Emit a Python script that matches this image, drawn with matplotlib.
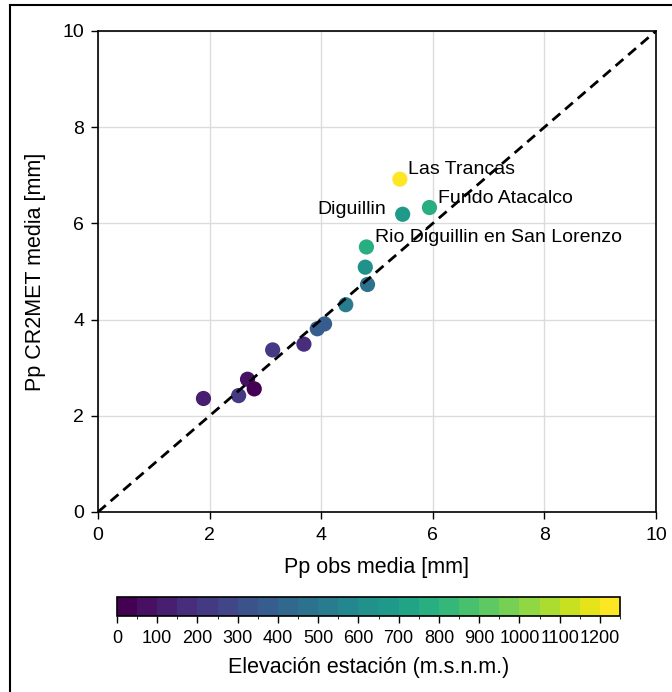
import numpy as np
import matplotlib
matplotlib.use("Agg")
import matplotlib.pyplot as plt
from matplotlib.colors import BoundaryNorm
from matplotlib.lines import Line2D

plt.rcParams['font.family'] = ['Liberation Sans', 'DejaVu Sans']

# Station means: observed vs CR2MET precipitation [mm] and station elevation [m]
pp_obs = [5.41, 5.94, 5.46, 4.81, 4.79, 4.83, 4.44, 4.06, 3.93, 3.69, 3.13, 2.68, 2.80, 2.52, 1.89]
pp_cr2met = [6.92, 6.33, 6.19, 5.51, 5.09, 4.73, 4.31, 3.91, 3.81, 3.49, 3.37, 2.76, 2.56, 2.42, 2.36]
elevacion = [1230, 760, 690, 750, 610, 470, 500, 380, 360, 180, 200, 70, 20, 230, 110]
nombres = ["Las Trancas", "Fundo Atacalco", "Diguillin", "Rio Diguillin en San Lorenzo",
           "", "", "", "", "", "", "", "", "", "", ""]
etiqueta_lado = ["right", "right", "left", "right"]

cb_ticks = list(range(0, 1300, 100))
niveles = list(range(0, 1300, 50))
ejes_ticks = [0, 2, 4, 6, 8, 10]

fig = plt.figure(figsize=(6.72, 6.92), dpi=100)
ax = fig.add_axes([98 / 672, 1 - 512 / 692, 558 / 672, 481 / 692])

cmap = plt.get_cmap('viridis', len(niveles) - 1)
norm = BoundaryNorm(niveles, cmap.N)

ax.grid(True, color='#dcdcdc', lw=1.0, zorder=0)
sc = ax.scatter(pp_obs, pp_cr2met, c=elevacion, cmap=cmap, norm=norm, s=120,
                edgecolors='none', zorder=3)
ax.plot([0, 10], [0, 10], color='black', ls=(0, (3.7, 2.3)), lw=2, zorder=4)

for x, y, nombre, lado in zip(pp_obs, pp_cr2met, nombres, etiqueta_lado):
    if not nombre:
        continue
    if lado == "right":
        ax.text(x + 0.15, y + 0.02, nombre, ha='left', va='bottom', fontsize=14, zorder=5)
    else:
        ax.text(x - 0.3, y - 0.08, nombre, ha='right', va='bottom', fontsize=14, zorder=5)

ax.set_xlim(0, 10)
ax.set_ylim(0, 10)
ax.set_xticks(ejes_ticks)
ax.set_yticks(ejes_ticks)
ax.tick_params(labelsize=14, length=5, width=1, direction='out')
ax.tick_params(axis='x', pad=6)
ax.tick_params(axis='y', pad=5)
for sp in ax.spines.values():
    sp.set_linewidth(1.2)
ax.set_xlabel('Pp obs media [mm]', fontsize=15.5, labelpad=9)
ax.set_ylabel('Pp CR2MET media [mm]', fontsize=15.5, labelpad=12)

cax = fig.add_axes([117 / 672, 1 - 616 / 692, 503 / 672, 19 / 692])
cb = fig.colorbar(sc, cax=cax, orientation='horizontal', ticks=cb_ticks)
cb.ax.tick_params(labelsize=13, length=5, width=1, pad=5)
cb.outline.set_linewidth(1.2)
cb.set_label('Elevación estación (m.s.n.m.)', fontsize=15.5, labelpad=7)

# frame lines along the left and top of the figure
fig.add_artist(Line2D([10 / 672, 10 / 672], [0, 1 - 5 / 692], transform=fig.transFigure,
                      color='black', lw=1.5))
fig.add_artist(Line2D([10 / 672, 1], [1 - 5 / 692, 1 - 5 / 692], transform=fig.transFigure,
                      color='black', lw=1.5))

fig.savefig('out.png', dpi=100)
